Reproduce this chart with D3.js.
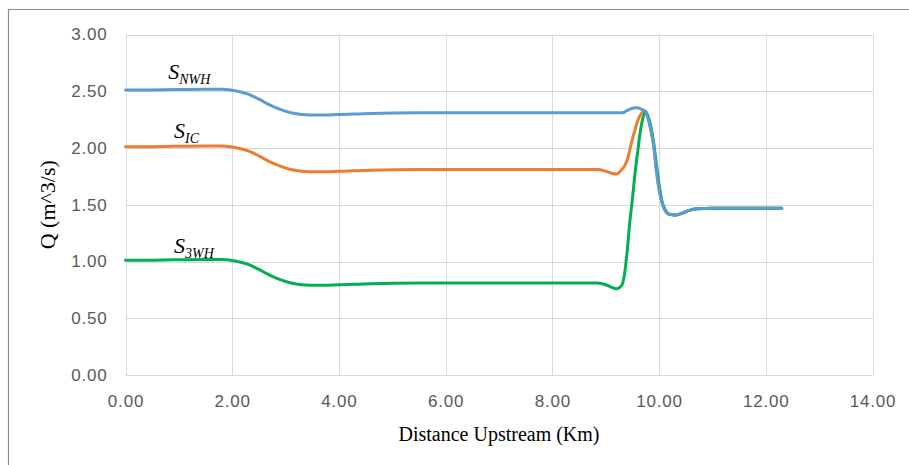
<!DOCTYPE html>
<html>
<head>
<meta charset="utf-8">
<script src="https://cdn.jsdelivr.net/npm/d3@7"></script>
<style>
  html, body { margin: 0; padding: 0; background: #fff; }
  svg { display: block; }
</style>
</head>
<body>
<svg id="chart" width="909" height="465"></svg>
<script>
// Distance upstream (km) shared by the three discharge series
const distance = [0, 0.5, 1, 1.5, 1.8, 2.1, 2.3, 2.5, 2.7, 2.9, 3.1, 3.3, 3.6, 4.0, 4.6, 5.5, 6.5, 7.5, 8.5,
  8.85, 9.0, 9.1, 9.2, 9.3, 9.35, 9.4, 9.45, 9.5, 9.55, 9.6, 9.65, 9.7, 9.75, 9.8, 9.85, 9.9, 9.95,
  10.0, 10.05, 10.1, 10.2, 10.3, 10.4, 10.5, 10.6, 10.7, 11, 11.5, 12, 12.3];

// Discharge Q (m^3/s)
const qNWH = [2.51, 2.512, 2.515, 2.518, 2.517, 2.50, 2.475, 2.43, 2.38, 2.34, 2.31, 2.295, 2.29, 2.295, 2.305, 2.31, 2.31, 2.31, 2.31,
  2.31, 2.31, 2.31, 2.31, 2.31, 2.315, 2.33, 2.34, 2.35, 2.355, 2.355, 2.345, 2.335, 2.32, 2.25, 2.15, 2.02, 1.80,
  1.64, 1.53, 1.46, 1.415, 1.41, 1.42, 1.44, 1.455, 1.465, 1.47, 1.47, 1.47, 1.47];
const qIC = [2.01, 2.012, 2.015, 2.018, 2.017, 2.00, 1.975, 1.93, 1.88, 1.84, 1.81, 1.795, 1.79, 1.795, 1.805, 1.81, 1.81, 1.81, 1.81,
  1.81, 1.795, 1.78, 1.77, 1.81, 1.84, 1.89, 1.98, 2.08, 2.16, 2.24, 2.29, 2.32, 2.32, 2.25, 2.15, 2.02, 1.80,
  1.64, 1.53, 1.46, 1.415, 1.41, 1.42, 1.44, 1.455, 1.465, 1.47, 1.47, 1.47, 1.47];
const q3WH = [1.01, 1.012, 1.015, 1.018, 1.017, 1.00, 0.975, 0.93, 0.88, 0.84, 0.81, 0.795, 0.79, 0.795, 0.805, 0.81, 0.81, 0.81, 0.81,
  0.81, 0.795, 0.775, 0.76, 0.79, 0.88, 1.08, 1.34, 1.55, 1.78, 1.97, 2.15, 2.27, 2.32, 2.27, 2.18, 2.04, 1.86,
  1.68, 1.54, 1.47, 1.415, 1.41, 1.42, 1.44, 1.455, 1.465, 1.47, 1.47, 1.47, 1.47];

const xTicks = [0, 2, 4, 6, 8, 10, 12, 14];
const yTicks = [0, 0.5, 1, 1.5, 2, 2.5, 3];

const seriesNames = ["S_IC", "S_3WH", "S_NWH"];
const seriesColors = ["#ED7D31", "#00B050", "#5B9BD5"];
const seriesValues = [qIC, q3WH, qNWH];

// Series label anchors (distance, Q) and subscripts
const labelMain = ["S", "S", "S"];
const labelSub = ["NWH", "IC", "3WH"];
const labelDist = [0.8, 0.91, 0.91];
const labelQ = [2.61, 2.09, 1.075];

const svg = d3.select("#chart");
const plot = { left: 125.5, right: 872.5, top: 34.5, bottom: 375 };

const x = d3.scaleLinear().domain([0, 14]).range([plot.left, plot.right]);
const y = d3.scaleLinear().domain([0, 3]).range([plot.bottom, plot.top]);

// Outer chart frame (top and left edges)
svg.append("path")
  .attr("d", "M8.5,465 V9.5 H909")
  .attr("fill", "none")
  .attr("stroke", "#8c8c8c")
  .attr("stroke-width", 1.2);

// Gridlines
const grid = svg.append("g").attr("stroke", "#d9d9d9").attr("stroke-width", 1);
grid.selectAll("line.h").data(yTicks).join("line")
  .attr("x1", plot.left).attr("x2", plot.right)
  .attr("y1", d => Math.round(y(d)) + 0.5).attr("y2", d => Math.round(y(d)) + 0.5);
grid.selectAll("line.v").data(xTicks).join("line")
  .attr("y1", plot.top).attr("y2", plot.bottom)
  .attr("x1", d => Math.round(x(d)) + 0.5).attr("x2", d => Math.round(x(d)) + 0.5);

// Axes (labels only, Excel-style without tick marks)
const fmt = d3.format(".2f");
const yAxis = svg.append("g")
  .attr("transform", `translate(${plot.left},0)`)
  .call(d3.axisLeft(y).tickValues(yTicks).tickFormat(fmt).tickSize(0).tickPadding(18));
const xAxis = svg.append("g")
  .attr("transform", `translate(0,${plot.bottom})`)
  .call(d3.axisBottom(x).tickValues(xTicks).tickFormat(fmt).tickSize(0).tickPadding(20));
[yAxis, xAxis].forEach(a => {
  a.select(".domain").remove();
  a.selectAll("text")
    .attr("fill", "#595959")
    .style("font-family", "'Liberation Sans', Arial, sans-serif")
    .style("font-size", "17px")
    .style("letter-spacing", "0.8px");
});

// Axis titles
svg.append("text")
  .attr("x", (plot.left + plot.right) / 2)
  .attr("y", 441)
  .attr("text-anchor", "middle")
  .style("font-family", "'Liberation Serif', 'Times New Roman', serif")
  .style("font-size", "20px")
  .attr("fill", "#000")
  .text("Distance Upstream (Km)");

svg.append("text")
  .attr("transform", `translate(55,${(plot.top + plot.bottom) / 2}) rotate(-90)`)
  .attr("text-anchor", "middle")
  .style("font-family", "'Liberation Serif', 'Times New Roman', serif")
  .style("font-size", "22px")
  .attr("fill", "#000")
  .text("Q (m^3/s)");

// Lines
const line = d3.line()
  .x((d, i) => x(distance[i]))
  .y(d => y(d))
  .curve(d3.curveMonotoneX);

svg.append("g").selectAll("path").data(seriesValues).join("path")
  .attr("d", d => line(d))
  .attr("fill", "none")
  .attr("stroke", (d, i) => seriesColors[i])
  .attr("stroke-width", 3)
  .attr("stroke-linejoin", "round")
  .attr("stroke-linecap", "round");

// Series labels
const labels = svg.append("g")
  .style("font-family", "'Liberation Serif', 'Times New Roman', serif")
  .style("font-style", "italic")
  .attr("fill", "#000");
labelMain.forEach((m, i) => {
  const t = labels.append("text")
    .attr("x", x(labelDist[i]))
    .attr("y", y(labelQ[i]))
    .style("font-size", "22px");
  t.append("tspan").text(m);
  t.append("tspan")
    .attr("dy", 5)
    .style("font-size", "14px")
    .text(labelSub[i]);
});
</script>
</body>
</html>
